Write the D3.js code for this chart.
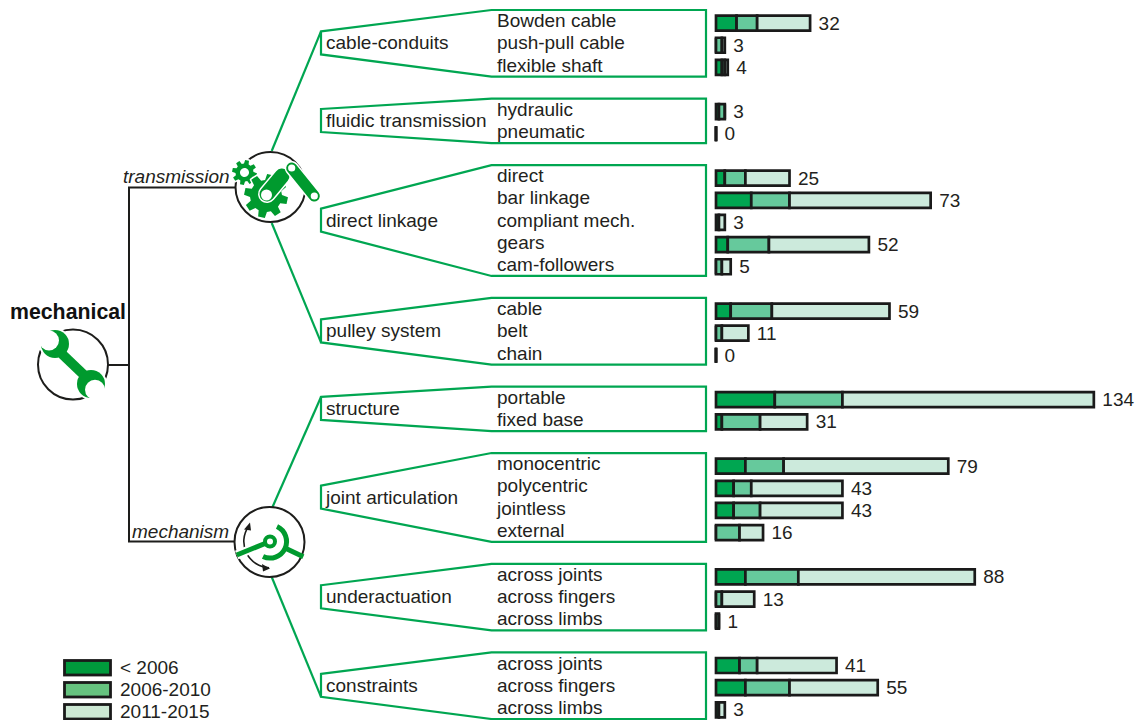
<!DOCTYPE html>
<html>
<head>
<meta charset="utf-8">
<script src="https://cdn.jsdelivr.net/npm/d3@7"></script>
<style>
  html, body { margin: 0; background: #fff; }
  svg { display: block; }
  text { font-family: "Liberation Sans", Arial, sans-serif; font-size: 19px; fill: #231f20; }
</style>
</head>
<body>
<svg id="chart" width="1143" height="720"></svg>
<script>
// groups, and how many rows each one holds
var groupNames = ["cable-conduits", "fluidic transmission", "direct linkage", "pulley system",
                  "structure", "joint articulation", "underactuation", "constraints"];
var groupSizes = [3, 2, 5, 3, 2, 4, 3, 3];

var rowNames = ["Bowden cable", "push-pull cable", "flexible shaft",
                "hydraulic", "pneumatic",
                "direct", "bar linkage", "compliant mech.", "gears", "cam-followers",
                "cable", "belt", "chain",
                "portable", "fixed base",
                "monocentric", "polycentric", "jointless", "external",
                "across joints", "across fingers", "across limbs",
                "across joints", "across fingers", "across limbs"];

// segments
var before2006 = [7, 0, 2,  1, 0,  3, 12, 1, 4, 0,  5, 0, 0,  20, 2,  10, 6, 6, 0,  10, 0, 0,  8, 10, 1];
var from2006   = [7, 2, 1,  2, 0,  7, 13, 0, 14, 2,  14, 2, 0,  23, 13,  13, 6, 9, 8,  18, 2, 1,  6, 15, 0];
var from2011   = [18, 1, 1,  0, 0,  15, 48, 2, 34, 3,  40, 9, 0,  85.5, 16,  56, 31, 28, 8,  60, 11, 0,  27, 30, 2];
// printed totals (the 134 bar is drawn shorter than its label in the original)
var totals     = [32, 3, 4,  3, 0,  25, 73, 3, 52, 5,  59, 11, 0,  134, 31,  79, 43, 43, 16,  88, 13, 1,  41, 55, 3];

var legendNames = ["< 2006", "2006-2010", "2011-2015"];
var barColors = ["#00a651", "#66c99c", "#cceadc"];
var legendColors = ["#009a3c", "#66c37f", "#cce8d3"];

var ink = "#1d1d1b", lineGreen = "#00a651", iconGreen = "#009a2e";

var svg = d3.select("#chart");

// every group is followed by one empty row
var rowIndex = [], groups = [];
var k = 0;
groupSizes.forEach(function (n, g) {
  groups.push({name: groupNames[g], first: k, last: k + n - 1});
  for (var i = 0; i < n; i++) rowIndex.push(k + i);
  k += n + 1;
});

var x = d3.scaleLinear().domain([0, 129]).range([716, 1095.3]);
var y = d3.scaleLinear().domain([0, 31]).range([20.8, 707.5]);

var X_LEFT = 321, X_KNEE = 491.5, X_RIGHT = 706;

function groupMid(g) { return (y(g.first) + y(g.last)) / 2; }

// black tree
var tree = svg.append("g").attr("fill", "none").attr("stroke", ink).attr("stroke-width", 2);
tree.append("path").attr("d", "M236 187.5H129V541.5H236");
tree.append("path").attr("d", "M108 365H129");

// green fan lines back to the two icons
var fan = svg.append("g").attr("fill", "none").attr("stroke", lineGreen).attr("stroke-width", 2.2);
fan.append("line").attr("x1", X_LEFT).attr("y1", groupMid(groups[0]) - 11.5).attr("x2", 271.7).attr("y2", 151);
fan.append("line").attr("x1", X_LEFT).attr("y1", groupMid(groups[3]) + 11.5).attr("x2", 271.7).attr("y2", 223);
fan.append("line").attr("x1", X_LEFT).attr("y1", groupMid(groups[4]) - 11.5).attr("x2", 272.5).attr("y2", 507);
fan.append("line").attr("x1", X_LEFT).attr("y1", groupMid(groups[7]) + 11.5).attr("x2", 271.7).attr("y2", 577);

// group brackets
svg.append("g").selectAll("path").data(groups).join("path")
  .attr("fill", "none").attr("stroke", lineGreen).attr("stroke-width", 2.2)
  .attr("d", function (g) {
    var m = groupMid(g);
    return d3.line()([
      [X_LEFT, m - 11.5], [X_KNEE, y(g.first) - 10.8], [X_RIGHT, y(g.first) - 10.8],
      [X_RIGHT, y(g.last) + 11.5], [X_KNEE, y(g.last) + 11.5], [X_LEFT, m + 11.5]
    ]) + "Z";
  });

svg.append("g").selectAll("text").data(groups).join("text")
  .attr("x", 326).attr("y", function (g) { return groupMid(g); }).attr("dy", "0.34em")
  .text(function (g) { return g.name; });

svg.append("g").selectAll("text").data(rowNames).join("text")
  .attr("x", 497).attr("y", function (d, i) { return y(rowIndex[i]); }).attr("dy", "0.34em")
  .text(function (d) { return d; });

// stacked bars: paths, since a zero width rect would not get a stroke
var rows = rowNames.map(function (d, i) {
  return {i: i, a: before2006[i], b: from2006[i], c: from2011[i]};
});
var stacked = d3.stack().keys(["a", "b", "c"])(rows);
var BAR_H = 15;
function barY(i) { return y(rowIndex[i]) + 2.3; }

var layers = svg.append("g").attr("stroke", "#1a1a1a").attr("stroke-width", 2.7);
stacked.forEach(function (layer, s) {
  layers.append("g").attr("fill", barColors[s]).selectAll("path").data(layer).join("path")
    .attr("d", function (d) {
      var t = barY(d.data.i) - BAR_H / 2;
      return "M" + x(d[0]) + " " + t + "H" + x(d[1]) + "V" + (t + BAR_H) + "H" + x(d[0]) + "Z";
    });
});

svg.append("g").selectAll("text").data(rows).join("text")
  .attr("x", function (d) { return x(d.a + d.b + d.c) + 8.5; })
  .attr("y", function (d) { return barY(d.i); }).attr("dy", "0.34em")
  .text(function (d) { return totals[d.i]; });

// legend
var legend = svg.append("g");
var legendY = d3.scalePoint().domain(legendNames).range([667.5, 711.5]);
legend.selectAll("rect").data(legendNames).join("rect")
  .attr("x", 64.5).attr("y", function (d) { return legendY(d) - 7; })
  .attr("width", 46).attr("height", 14.5)
  .attr("fill", function (d, i) { return legendColors[i]; })
  .attr("stroke", "#1a1a1a").attr("stroke-width", 2.8);
legend.selectAll("text").data(legendNames).join("text")
  .attr("x", 120).attr("y", function (d) { return legendY(d) + 0.5; }).attr("dy", "0.34em")
  .text(function (d) { return d; });

// tree labels
svg.append("text").attr("x", 10).attr("y", 319).attr("font-weight", "bold")
  .style("font-size", "21.3px").style("fill", "#111").text("mechanical");
svg.append("text").attr("x", 123).attr("y", 183).attr("font-style", "italic").text("transmission");
svg.append("text").attr("x", 132).attr("y", 538).attr("font-style", "italic").text("mechanism");

// icons
function ring(cx, cy) {
  svg.append("circle").attr("cx", cx).attr("cy", cy).attr("r", 35)
    .attr("fill", "#fff").attr("stroke", ink).attr("stroke-width", 2);
}

function halo(sel, w) {
  return sel.attr("stroke", "#fff").attr("stroke-width", w).attr("stroke-linejoin", "round")
    .style("paint-order", "stroke");
}

function gearPath(cx, cy, rOut, rIn, teeth, hole) {
  var pts = [], step = 2 * Math.PI / teeth;
  for (var i = 0; i < teeth; i++) {
    var a = i * step;
    pts.push([a - step * 0.34, rIn], [a - step * 0.2, rOut], [a + step * 0.2, rOut], [a + step * 0.34, rIn]);
  }
  var d = d3.lineRadial().angle(function (p) { return p[0]; })
    .radius(function (p) { return p[1]; })(pts) + "Z";
  if (hole) {
    d += "M" + hole + " 0A" + hole + " " + hole + " 0 1 0 " + (-hole) + " 0A" + hole + " " + hole + " 0 1 0 " + hole + " 0Z";
  }
  return {d: d, t: "translate(" + cx + "," + cy + ") rotate(12)"};
}

// wrench
ring(73, 364.5);
var wrench = svg.append("g");
function wrenchHead(cx, cy, nx, ny) {
  wrench.append("circle").attr("cx", cx).attr("cy", cy).attr("r", 16).attr("fill", "#fff");
  wrench.append("circle").attr("cx", cx).attr("cy", cy).attr("r", 14).attr("fill", iconGreen);
  wrench.append("circle").attr("cx", cx + nx).attr("cy", cy + ny).attr("r", 10).attr("fill", "#fff");
}
wrench.append("line").attr("x1", 60).attr("y1", 352).attr("x2", 86).attr("y2", 377)
  .attr("stroke", "#fff").attr("stroke-width", 13);
wrenchHead(55, 344, -6, -3.5);
wrenchHead(91, 384, 4, 5.7);
wrench.append("line").attr("x1", 62).attr("y1", 354).attr("x2", 84).attr("y2", 375)
  .attr("stroke", iconGreen).attr("stroke-width", 10);

// gears and crank
ring(270.5, 187);
var small = gearPath(244.5, 172.5, 12.5, 9, 8, 4.5);
halo(svg.append("path").attr("d", small.d).attr("transform", small.t), 3)
  .attr("fill", iconGreen).attr("fill-rule", "evenodd");
var big = gearPath(266, 196, 22, 16, 8);
halo(svg.append("path").attr("d", big.d).attr("transform", big.t), 3).attr("fill", iconGreen);
svg.append("line").attr("x1", 267).attr("y1", 194).attr("x2", 283).attr("y2", 175)
  .attr("stroke", "#fff").attr("stroke-width", 18).attr("stroke-linecap", "round");
svg.append("line").attr("x1", 267).attr("y1", 194).attr("x2", 282).attr("y2", 176)
  .attr("stroke", iconGreen).attr("stroke-width", 15).attr("stroke-linecap", "round");
svg.append("line").attr("x1", 291.7).attr("y1", 168).attr("x2", 314.3).attr("y2", 196)
  .attr("stroke", "#fff").attr("stroke-width", 14).attr("stroke-linecap", "round");
svg.append("line").attr("x1", 291.7).attr("y1", 168).attr("x2", 314.3).attr("y2", 196)
  .attr("stroke", iconGreen).attr("stroke-width", 11).attr("stroke-linecap", "round");
[[291.7, 168, 3.6], [314.3, 196, 3.6], [266.5, 195, 5.5]].forEach(function (c) {
  svg.append("circle").attr("cx", c[0]).attr("cy", c[1]).attr("r", c[2]).attr("fill", "#fff");
});

// joint
ring(269.5, 542);
var hx = 270, hy = 541.5, toRad = Math.PI / 180;
var turn = d3.arc().innerRadius(25.4).outerRadius(27);
var arrows = svg.append("g").attr("transform", "translate(" + hx + "," + hy + ")");
arrows.append("path").attr("fill", ink).attr("d", turn({startAngle: 182 * toRad, endAngle: 305 * toRad}));
arrows.append("path").attr("fill", ink).attr("d", d3.line()([[-20, -19], [-26, -12], [-19, -11]]));
arrows.append("path").attr("fill", ink).attr("d", d3.line()([[0, 27], [-8, 22.5], [-7, 30]]));

var arm = svg.append("g").attr("fill", "none").attr("stroke", iconGreen).attr("stroke-width", 5);
halo(svg.append("line").attr("x1", 236.7).attr("y1", 555).attr("x2", hx).attr("y2", hy), 9);
arm.append("line").attr("x1", 236.7).attr("y1", 555).attr("x2", hx).attr("y2", hy);
arm.append("path").attr("transform", "translate(" + hx + "," + hy + ")")
  .attr("d", "M7 -15A16.5 16.5 0 1 1 -7 15");
arm.append("line").attr("x1", 285).attr("y1", 548).attr("x2", 303.3).attr("y2", 556.7);
arm.raise();
svg.append("circle").attr("cx", hx).attr("cy", hy).attr("r", 5)
  .attr("fill", "#fff").attr("stroke", iconGreen).attr("stroke-width", 4);
</script>
</body>
</html>
